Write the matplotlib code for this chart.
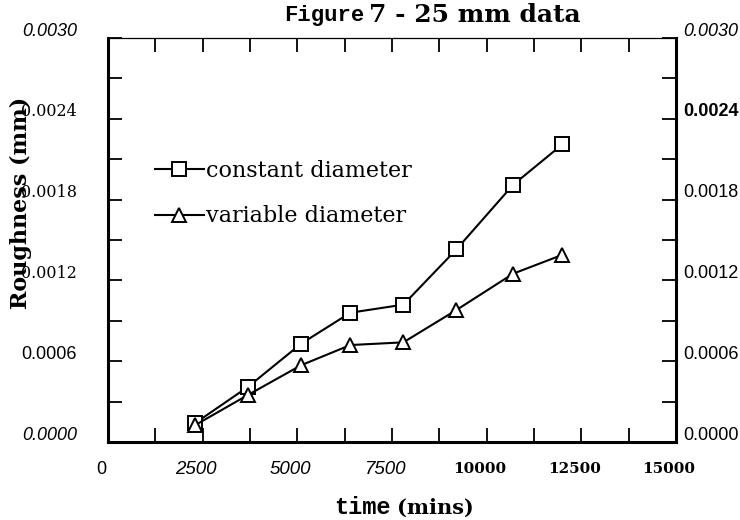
import matplotlib
matplotlib.use("Agg")
import matplotlib.pyplot as plt
import matplotlib.transforms as mtrans
import numpy as np

# ── Dados ───────────────────────────────────────────────────────────────────
tempo = [2300, 3700, 5100, 6400, 7800, 9200, 10700, 12000]
rug_constante = [0.00014, 0.00041, 0.00073, 0.00096, 0.00102, 0.00143, 0.00191, 0.00221]
rug_variavel = [0.000125, 0.00035, 0.00057, 0.00072, 0.00074, 0.00098, 0.00125, 0.00139]
serie_labels = ["constant diameter", "variable diameter"]

xtick_vals = [0, 2500, 5000, 7500, 10000, 12500, 15000]
xtick_txt = ["0", "2500", "5000", "7500", "10000", "12500", "15000"]
ytick_vals = [0.0, 0.0006, 0.0012, 0.0018, 0.0024, 0.0030]
ytick_txt = ["0.0000", "0.0006", "0.0012", "0.0018", "0.0024", "0.0030"]

# estilos misturados (figura escaneada): família, estilo, peso, tamanho
SANS = "Liberation Sans"
SERIF = "DejaVu Serif"
MONO = "Liberation Mono"
ESTILO_Y_ESQ = [(SANS, "italic", "normal", 13), (SANS, "normal", "normal", 13),
                (SERIF, "normal", "normal", 11.5), (SERIF, "normal", "normal", 11.5),
                (SERIF, "normal", "normal", 11.5), (SANS, "italic", "normal", 13)]
ESTILO_Y_DIR = [(SANS, "normal", "normal", 13), (SANS, "normal", "normal", 13),
                (SANS, "normal", "normal", 13), (SANS, "normal", "normal", 13),
                (SANS, "normal", "bold", 13), (SANS, "italic", "normal", 13)]
ESTILO_X = [(SANS, "normal", "normal", 13), (SANS, "italic", "normal", 13.5),
            (SANS, "italic", "normal", 13.5), (SANS, "italic", "normal", 13.5),
            (SERIF, "normal", "bold", 11), (SERIF, "normal", "bold", 11),
            (SERIF, "normal", "bold", 11)]

W, H = 740, 520
fig = plt.figure(figsize=(W / 100, H / 100), dpi=100)
fig.patch.set_facecolor("white")
ax = fig.add_axes([108 / W, 1 - 442 / H, (676 - 108) / W, (442 - 38) / H])

ax.plot(tempo, rug_constante, color="black", lw=1.5, marker="s", ms=9.5,
        mfc="white", mec="black", mew=1.4, label=serie_labels[0], zorder=3)
ax.plot(tempo, rug_variavel, color="black", lw=1.5, marker="^", ms=10,
        mfc="white", mec="black", mew=1.4, label=serie_labels[1], zorder=3)

ax.set_xlim(0, 15000)
ax.set_ylim(0, 0.003)
ax.set_xticks(np.arange(0, 15001, 1250))
ax.set_yticks(np.arange(0, 0.00301, 0.0003))
ax.tick_params(axis="both", which="both", direction="in", length=10, width=1.3,
               labelleft=False, labelbottom=False, top=True, right=True)

for lado in ["left", "bottom", "right"]:
    ax.spines[lado].set_linewidth(2.2)
ax.spines["top"].set_linewidth(0.9)

# rótulos dos eixos (desenhados à mão por causa das fontes misturadas)
sobe = mtrans.ScaledTranslation(0, 7 / 100, fig.dpi_scale_trans)
esq = mtrans.blended_transform_factory(ax.transAxes, ax.transData)
for v, t, (fam, sty, wt, fs) in zip(ytick_vals, ytick_txt, ESTILO_Y_ESQ):
    ax.text(-31 / 568, v, t, transform=esq + sobe, ha="right", va="center",
            fontsize=fs, family=fam, style=sty, weight=wt)
for v, t, (fam, sty, wt, fs) in zip(ytick_vals, ytick_txt, ESTILO_Y_DIR):
    ax.text(1 + 7 / 568, v, t, transform=esq + sobe, ha="left", va="center",
            fontsize=fs, family=fam, style=sty, weight=wt)

baixo = mtrans.blended_transform_factory(ax.transData, ax.transAxes)
esquerda = mtrans.ScaledTranslation(-7 / 100, 0, fig.dpi_scale_trans)
for v, t, (fam, sty, wt, fs) in zip(xtick_vals, xtick_txt, ESTILO_X):
    ax.text(v, -27 / 404, t, transform=baixo + esquerda, ha="center", va="center",
            fontsize=fs, family=fam, style=sty, weight=wt)

# título e rótulos
fig.text(364 / W, 1 - 16 / H, "Figure", ha="right", va="center",
         fontsize=16, family=MONO, weight="bold")
fig.text(369 / W, 1 - 15 / H, "7 - 25 mm data", ha="left", va="center",
         fontsize=18, family=SERIF, weight="bold")
fig.text(391 / W, 1 - 508 / H, "time", ha="right", va="center",
         fontsize=17, family=MONO, weight="bold")
fig.text(397 / W, 1 - 508 / H, "(mins)", ha="left", va="center",
         fontsize=15, family=SERIF, weight="heavy")
fig.text(21 / W, 1 - 203 / H, "Roughness (mm)", rotation=90, ha="center",
         va="center", fontsize=16, family=SERIF, weight="bold")

leg = ax.legend(loc="upper left", bbox_to_anchor=(47 / 568, (442 - 160) / 404),
                frameon=False, prop={"family": SERIF, "size": 16},
                handlelength=2.2, handletextpad=0.1, labelspacing=1.05,
                borderpad=0, borderaxespad=0)

fig.savefig("out.png", dpi=100, facecolor="white")
